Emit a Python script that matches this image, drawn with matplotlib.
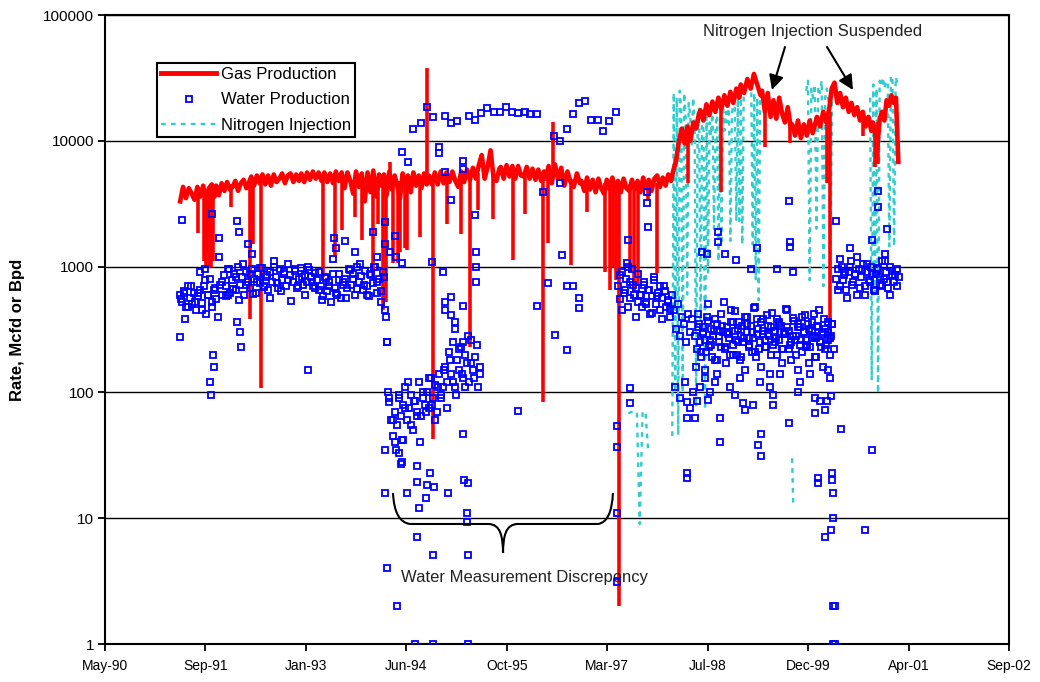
import numpy as np
import pandas as pd
import matplotlib
matplotlib.use("Agg")
import matplotlib.pyplot as plt
import matplotlib.dates as mdates
from matplotlib.lines import Line2D
from matplotlib.path import Path
from matplotlib.patches import PathPatch
from matplotlib.ticker import FixedLocator, NullLocator, FixedFormatter

plt.rcParams["font.family"] = ["Liberation Sans", "DejaVu Sans"]

# ---- gas production (Mcfd) in time segments (decimal years) ----
gas_a = [3300, 4300, 3500, 4200, 3800, 3400, 4300, 3600, 4400, 3400, 4200, 4500, 3600]
gas_b = [4400, 3700, 4600, 4000, 4700, 4100, 4300, 4800, 4000, 4600, 4900, 4200, 4700]
gas_c = [5200, 4400, 5300, 4600, 5400, 4500, 5300, 4400, 5400, 4700, 5000, 5500, 4600,
         5300, 5500, 4700, 5400, 4800]
gas_d = [5500, 4700, 5600, 4900, 5700, 5000, 5600, 4800, 5600, 4700, 5500, 4600, 5700,
         4800, 5600, 4200, 5600, 4800, 3800, 5700, 4300, 5500, 3300, 5600, 3900, 5800,
         3600, 5400]
gas_e = [4400, 5400, 3700, 5700, 4100, 5300, 4400, 3500, 5500, 4300, 5300, 3900, 5600,
         4400, 5300, 4200, 5500, 4500]
gas_f = [5300, 4500, 5600, 4500, 5700, 4600, 5600, 4700, 5700, 4800, 4300, 5700, 4700,
         5900, 4900, 6100, 5000, 6400, 7700, 5000, 6200, 8400, 5200, 4800, 6000]
gas_g = [6200, 5000, 6400, 5200, 6300, 5000, 6300, 5300, 5200, 6200, 5000, 6000, 4900,
         5900, 4800, 5700]
gas_h = [5000, 6300, 4600, 6500, 5000, 6100, 4400, 5700, 4700, 4300, 5500, 4600]
gas_i = [4800, 4000, 5100, 4100, 4900, 3900, 5000, 4200, 3800, 4900, 4100, 5100, 4000,
         4800, 3900, 5000, 4200, 4000, 4900, 4100, 4800, 3900, 5100, 4200, 4900, 4000,
         5000, 5300, 4300, 5100, 4400, 5400, 4800]
gas_j = [5800, 7000, 10000, 12500, 9500, 13000, 10000, 14000, 12500, 16500]
gas_k = [17500, 14500, 19500, 16000, 20500, 17000, 22000, 18000, 23000, 19000, 24500,
         20000, 26000, 22000]
gas_l = [28000, 24000, 31000, 26000, 34000, 28000, 23000]
gas_m = [25000, 17000, 24000, 15500, 21000, 15000, 22000, 16500, 14000, 18500, 13000]
gas_n = [13500, 11000, 14500, 10500, 13500, 11000, 14500, 11500, 14000]
gas_o = [15500, 13000, 17000, 14000, 18500]
gas_p = [26000, 29000, 20000, 24000, 18500, 22000, 17000, 20000, 16000, 18500, 14500,
         17000, 13000, 15500, 12000]
gas_q = [14000, 12000, 9000, 15000, 17000, 14500, 21000, 19000, 23000, 20000, 22000, 6800]

gas_spans = [(1991.37, 1991.84, gas_a), (1991.86, 1992.31, gas_b), (1992.34, 1992.99, gas_c),
             (1993.02, 1994.08, gas_d), (1994.11, 1994.73, gas_e), (1994.76, 1995.72, gas_f),
             (1995.74, 1996.33, gas_g), (1996.35, 1996.82, gas_h), (1996.84, 1998.06, gas_i),
             (1998.09, 1998.44, gas_j), (1998.46, 1998.99, gas_k), (1999.01, 1999.28, gas_l),
             (1999.30, 1999.69, gas_m), (1999.71, 2000.03, gas_n), (2000.05, 2000.22, gas_o),
             (2000.25, 2000.79, gas_p), (2000.81, 2001.156, gas_q)]

# one-day shut-ins and spikes: date, rate on that day, rate on the days around it
gas_dip_t = [1991.616, 1991.700, 1991.725, 1991.745, 1991.765, 1991.790, 1991.820, 1992.065,
             1992.324, 1992.365, 1992.474,
             1993.319, 1993.483, 1993.578, 1993.755, 1993.851, 1994.001, 1994.069, 1994.137,
             1994.178, 1994.232, 1994.273, 1994.341, 1994.369, 1994.437, 1994.464, 1994.641,
             1994.736, 1994.818, 1995.009, 1995.200, 1995.323, 1995.432, 1995.636, 1995.909,
             1996.072, 1996.318, 1996.386, 1996.454, 1996.699, 1996.917, 1997.162, 1997.231,
             1997.272, 1997.312, 1997.353, 1997.503, 1997.558, 1997.612, 1997.749, 1997.871,
             1998.294, 1998.743, 1999.343, 1999.684, 2000.188, 2000.229, 2000.679, 2000.842,
             2000.883]
gas_dip_v = [1850, 1100, 1000, 1300, 970, 1000, 1100, 3000,
             380, 1500, 108,
             830, 1190, 1950, 2500, 1620, 780, 2200, 450,
             520, 6800, 1070, 1060, 1300, 1400, 1360, 1730,
             37800, 43, 2200, 1800, 230, 2800, 2400, 1120,
             2600, 84, 1530, 14000, 1030, 2700, 900, 650,
             1000, 780, 2, 890, 620, 700, 3400, 890,
             4600, 3900, 8900, 9600, 4600, 274, 11000, 6200,
             6600]
gas_dip_top = [4000, 4000, 4000, 4000, 4200, 4200, 4200, 4500,
               4600, 4800, 5000,
               5200, 5200, 5200, 5000, 5000, 5000, 5000, 4800,
               4800, 5000, 4800, 4800, 4800, 4800, 4800, 4800,
               5000, 5000, 5200, 5200, 5200, 5500, 5500, 5600,
               5600, 5400, 5500, 5500, 5000, 4600, 4600, 4600,
               4600, 4600, 4600, 4500, 4500, 4500, 4600, 4600,
               11000, 20000, 20000, 14000, 15000, 17000, 16000, 12000,
               14000]

# ---- water production (Bpd), dense bands per period ----
w1a = [600, 520, 640, 480, 700, 560, 500, 620, 450, 580, 650, 510,
       700, 420, 600, 800, 480, 650, 550, 400, 720, 600,
       850, 700, 950, 620, 780, 880, 650, 1000, 720, 820, 600, 900, 760, 680, 950, 800, 620,
       870, 740, 980, 700, 820, 650,
       900, 750, 1000, 820, 680, 950, 780, 880, 700, 1050, 850, 760, 920, 680, 800, 980, 720,
       860, 750, 940, 820, 700, 890, 780, 650,
       700, 580, 820, 640, 760, 520, 870, 680, 600, 780, 560, 720,
       800, 680, 950, 720, 880, 600, 1000, 760, 840, 650, 920, 700, 580, 860, 740, 1000, 620,
       800, 520, 900, 450]
w1b = [550, 620, 480, 700, 520, 620, 450, 780, 600, 520,
       680, 1200, 750, 580, 950, 660, 820, 540, 1050, 720,
       880, 610, 760, 980, 690, 850, 560, 1100, 740, 640,
       900, 780, 530, 960, 700, 830, 600, 1000, 760, 680,
       900, 540, 810, 700, 1150, 620, 880, 750, 560, 940,
       800, 660, 1050, 720, 590, 870, 1000, 750, 640, 820]
w2a = [250, 90, 60, 45, 70, 55, 90, 65, 80, 110, 60, 75, 95, 50, 85, 70, 120, 65, 90, 80,
       100, 75, 130, 90, 115, 70, 140, 95, 110]
w2b = [60, 35, 95, 42, 75, 120, 55, 85, 65, 40, 100, 70, 130, 80, 60, 110, 90, 150, 75, 180,
       120, 95, 220, 140, 110, 280, 170, 130, 240, 160]
w3a = [160, 120, 210, 140, 250, 110, 180, 150, 230, 130, 200, 170, 120, 260, 150, 190, 110, 140]
w4a = [700, 550, 900, 620, 800, 480, 750, 950, 600, 680, 520, 600, 480, 720, 520, 650, 420,
       580, 780, 500, 620, 450, 560, 700, 480, 540, 400, 600]
w4b = [850, 450, 650, 1000, 560, 720, 400, 880, 600, 760, 500, 650, 430, 820, 580, 700, 380,
       640, 520, 460]
w5a = [450, 320, 500, 280, 400, 350, 250, 420, 300, 380]
w6a = [280, 220, 350, 190, 300, 260, 400, 230, 320, 280,
       180, 350, 250, 420, 300, 220, 330, 270, 450, 240,
       310, 200, 360, 280, 250, 400, 300, 230, 340, 270,
       480, 290, 220, 360, 310, 260, 410, 280, 330, 240,
       300, 380, 260, 340, 220, 290, 450, 310, 250, 370,
       280, 330, 240, 400, 300, 260, 350, 230, 310, 420,
       270, 330, 250, 290, 380, 240, 300, 270, 350, 220]
w6b = [160, 420, 210, 330, 150, 500, 260, 190, 380, 140, 310, 230, 520, 170, 290, 360, 200,
       440, 250, 180, 340, 150, 400, 270, 210, 470, 190, 320, 160, 380, 230, 290, 140, 430,
       250, 200, 350, 170, 300, 460, 220, 180, 390, 260, 150, 330, 210, 410, 240, 170, 360,
       280, 190, 450, 230, 160, 320, 260, 200, 350]
w6c = [330, 250, 290, 210, 370, 240, 310, 180, 280, 340, 230, 300, 200, 360, 260, 320, 190,
       270, 350, 240, 300, 210, 380, 250, 290, 230, 340, 200, 310, 270, 360, 220, 290, 330,
       240, 280, 200, 350, 260, 300, 230, 320, 270, 190, 340, 250, 300, 220, 360, 280]
w7a = [800, 950, 700, 1000, 850, 650, 900, 1100, 750, 880, 600, 950, 820, 1050, 700, 900,
       780, 1000, 650, 870, 950, 720, 1100, 800, 900, 680, 1000, 850, 750, 950, 820]
w7b = [650, 1150, 780, 900, 560, 1000, 720, 850, 1200, 680, 940, 600, 1050, 760, 880, 640,
       980, 820, 700, 1100, 760, 600, 920, 860, 700]

water_spans = [(1991.37, 1994.16, w1a), (1991.38, 1994.15, w1b), (1994.19, 1994.95, w2a),
               (1994.27, 1995.45, w2b), (1994.98, 1995.45, w3a), (1997.34, 1998.07, w4a),
               (1997.36, 1998.05, w4b), (1998.10, 1998.35, w5a), (1998.38, 2000.28, w6a),
               (1998.40, 2000.26, w6b), (1998.42, 2000.24, w6c), (2000.31, 2001.16, w7a),
               (2000.33, 2001.14, w7b)]

# scattered water readings
water_pts_t = [1991.370, 1991.397, 1991.438, 1991.643, 1991.711, 1991.779, 1991.793, 1991.806,
               1991.820, 1991.834, 1991.902, 1992.024, 1992.147, 1992.174, 1992.147, 1992.188,
               1992.201, 1992.297, 1992.351, 1993.115, 1993.469, 1993.496, 1993.619, 1993.755,
               1994.001, 1994.055, 1994.164, 1994.178, 1994.191, 1994.205, 1994.219, 1994.164,
               1994.164, 1994.191, 1994.328, 1994.300, 1994.355, 1994.382, 1994.396, 1994.410,
               1994.464, 1994.573, 1994.600, 1994.600, 1994.600, 1994.628, 1994.723, 1994.737,
               1994.778, 1994.818, 1994.832, 1994.818, 1995.023, 1995.227, 1995.241, 1995.282,
               1995.282, 1995.295, 1995.295, 1995.295,
               1994.546, 1994.655, 1994.737, 1994.818, 1994.900, 1994.900, 1994.982, 1995.064,
               1995.145, 1995.309, 1995.391, 1995.473, 1995.554, 1995.650, 1995.732, 1995.813,
               1995.895, 1995.977, 1996.072, 1996.140, 1996.236, 1996.467, 1996.549, 1996.645,
               1996.726, 1996.808, 1996.890, 1996.972, 1997.067, 1997.135, 1997.217, 1997.312,
               1994.396, 1994.478, 1994.982, 1995.064, 1995.227, 1995.227, 1995.391, 1995.405,
               1995.405, 1995.405, 1994.164, 1994.300, 1994.232, 1994.314, 1994.396, 1994.805,
               1994.955, 1994.982, 1994.982, 1995.064, 1995.064, 1995.118, 1995.118, 1995.227,
               1995.227, 1996.318, 1996.236, 1996.386, 1996.481, 1996.549, 1996.576, 1996.645,
               1996.645, 1996.726, 1996.808, 1996.808, 1995.977,
               1997.326, 1997.326, 1997.326, 1997.326, 1997.503, 1997.503, 1997.476, 1997.462,
               1997.735, 1997.735, 1997.749, 1998.485, 1998.553, 1998.703, 1998.703, 1998.798,
               1998.948, 1999.152, 1999.234, 1999.507, 1999.670, 1999.684, 1999.684, 1999.725,
               2000.311, 2000.502, 2000.801, 2000.883, 2000.883, 2000.979, 2001.006,
               1998.280, 1998.280, 1998.280, 1998.280, 1998.389, 1998.567, 1998.730, 1998.730,
               1999.043, 1999.071, 1999.180, 1999.289, 1999.289, 1999.248, 1999.452, 1999.452,
               1999.670, 1999.793, 2000.025, 2000.025, 2000.066, 2000.066, 2000.093, 2000.161,
               2000.188, 2000.256, 2000.256, 2000.270, 2000.270, 2000.243, 2000.161, 2000.706,
               2000.270, 2000.297, 2000.270, 2000.297, 2000.379, 2000.801, 2000.243,
               1998.117, 1998.185, 1998.253, 1998.321, 1998.362, 1998.416, 1998.457, 1998.526,
               1998.594, 1998.662, 1998.866, 1998.935, 1999.003, 1999.275, 1999.411, 1999.548,
               1999.820, 1999.956, 2000.202, 2000.229]
water_pts_v = [275, 2350, 380, 900, 950, 120, 95, 2600,
               200, 160, 1700, 600, 2300, 1900, 360, 300,
               230, 1500, 1250, 150, 1700, 1400, 1600, 1300,
               1900, 1200, 1500, 400, 250, 100, 84, 35,
               16, 4, 2, 40, 33, 27, 28, 42,
               16, 1, 26, 19.4, 7.1, 12, 14.5, 18.5,
               23, 5.1, 17.8, 1, 16, 47, 20, 11,
               9.3, 19, 5.1, 1,
               12500, 13900, 18600, 15500, 8900, 8000, 15800, 13800,
               14300, 15800, 14500, 16500, 18100, 16900, 16900, 18600,
               17000, 16500, 16900, 16300, 16300, 11000, 9900, 12300,
               16400, 19800, 20600, 14600, 14700, 12000, 14300, 16900,
               8200, 6800, 5700, 3400, 6900, 6000, 2550, 1300,
               1000, 750, 2250, 1750, 1300, 1200, 1070, 1090,
               910, 520, 450, 570, 410, 360, 320, 490,
               250, 3900, 490, 740, 285, 4600, 1240, 217,
               700, 700, 560, 470, 71,
               54, 37, 11, 3.1, 108, 82, 1640, 1070,
               3900, 3200, 2050, 1300, 1250, 1900, 1570, 1270,
               1120, 950, 1400, 950, 3300, 1570, 1440, 900,
               2300, 1400, 1620, 4000, 3000, 1250, 2000,
               23, 21, 84, 63, 63, 87, 63, 40,
               82, 72, 80, 47, 31, 38, 95, 80,
               57, 100, 90, 68, 21, 19, 85, 72,
               85, 23, 20, 16, 10, 8.1, 7.1, 8.1,
               2, 2, 1, 1, 51, 35, 93,
               110, 90, 120, 75, 100, 85, 110, 130,
               100, 120, 110, 95, 130, 120, 110, 140,
               120, 140, 150, 130]

# ---- nitrogen injection (Mcfd) ----
n2_a = [68, 70, 70, 70, 9, 70, 70, 33]
n2_b = [45, 24000, 100, 22000, 46, 25000, 18000, 100, 24000, 15000,
        600, 20000, 16000, 9000, 22000, 14000, 77, 12000, 18000, 300,
        15000, 12000, 77, 17000, 900, 14000, 11000, 18000, 2000, 13000,
        16000, 1100, 15000, 1500, 19000, 12000, 17000, 14000, 20000, 1600,
        16000, 21000, 18000, 2300, 22000, 2300, 24000, 1500, 27000, 29000,
        26000, 30000, 27000, 28000, 1500, 24000, 780, 22000, 540, 25000]
n2_c = [30, 13]
n2_d = [25000, 30000, 780, 26000, 22000, 28000, 2000, 27000, 24000, 30000, 700, 22000,
        26000, 20000, 780, 25000]
n2_e = [22000, 125, 28000, 620, 26000, 98, 30000, 27000, 32000, 26000, 30000, 28000, 1450,
        33000, 30000, 1450, 32000, 29000]
n2_spans = [(1997.476, 1997.749, n2_a), (1998.076, 1999.275, n2_b), (1999.710, 1999.725, n2_c),
            (1999.902, 2000.256, n2_d), (2000.774, 2001.142, n2_e)]

x_ticks_start = pd.Timestamp("1990-05-07")
tick_days = 500
n_ticks = 10
y_ticks = [1, 10, 100, 1000, 10000, 100000]
y_tick_labels = ["1", "10", "100", "1000", "10000", "100000"]


def to_date(years):
    years = np.asarray(years, dtype=float)
    whole = np.floor(years).astype(int)
    base = pd.to_datetime([f"{y}-01-01" for y in whole])
    return base + pd.to_timedelta((years - whole) * 365.25, unit="D")


def spans_to_series(spans, gaps=False):
    ts, vs = [], []
    for t0, t1, vals in spans:
        ts.extend(np.linspace(t0, t1, len(vals)))
        vs.extend(vals)
        if gaps:
            ts.append(t1 + 0.001)
            vs.append(np.nan)
    return np.array(ts), np.array(vs, dtype=float)


gt, gv = spans_to_series(gas_spans)
gas = pd.Series(gv, index=to_date(gt))
dip_dates = to_date(gas_dip_t)

wt, wv = spans_to_series(water_spans)
water = pd.Series(np.concatenate([wv, water_pts_v]),
                  index=to_date(np.concatenate([wt, water_pts_t])))

nt, nv = spans_to_series(n2_spans, gaps=True)
n2 = pd.Series(nv, index=to_date(nt))

fig = plt.figure(figsize=(10.4, 6.82), dpi=100)
ax = fig.add_axes([105 / 1040, 38 / 682, 904 / 1040, 629 / 682])

red = "#FF0000"
ax.plot(n2.index, n2.values, color="#33CCCC", lw=1.7, ls=(0, (2, 2.2)), zorder=2)
ax.plot(gas.index, gas.values, color=red, lw=3.3, zorder=3)
ax.vlines(dip_dates, gas_dip_v, gas_dip_top, color=red, lw=2.6, zorder=3)
ax.plot(water.index, water.values, ls="none", marker="s", ms=4.2, mfc="none",
        mec="#0000FF", mew=1.3, zorder=4)

ax.set_yscale("log")
ax.set_ylim(1, 100000)
ax.yaxis.set_major_locator(FixedLocator(y_ticks))
ax.yaxis.set_major_formatter(FixedFormatter(y_tick_labels))
ax.yaxis.set_minor_locator(NullLocator())
ax.yaxis.grid(True, color="black", lw=1.0)
ax.set_axisbelow(True)

xt = [x_ticks_start + pd.Timedelta(days=tick_days * k) for k in range(n_ticks)]
ax.set_xlim(xt[0], xt[-1])
ax.set_xticks(xt)
ax.xaxis.set_major_formatter(mdates.DateFormatter("%b-%y"))
ax.xaxis.set_minor_locator(NullLocator())

ax.tick_params(axis="both", direction="out", length=5, width=1.3, colors="black")
ax.tick_params(axis="x", labelsize=10, pad=6)
ax.tick_params(axis="y", labelsize=11, pad=3)
for s in ax.spines.values():
    s.set_linewidth(1.5)
    s.set_color("black")

fig.text(18 / 1040, 1 - 330 / 682, "Rate, Mcfd or Bpd", rotation=90, ha="center",
         va="center", fontsize=12, fontweight="bold")

handles = [Line2D([], [], color=red, lw=3.5),
           Line2D([], [], ls="none", marker="s", ms=4.2, mfc="none", mec="#0000FF", mew=1.3),
           Line2D([], [], color="#33CCCC", lw=1.7, ls=(0, (2, 2.2)))]
leg = ax.legend(handles, ["Gas Production", "Water Production", "Nitrogen Injection"],
                loc="upper left", bbox_to_anchor=(0.0575, 0.9237), borderaxespad=0,
                fontsize=12, frameon=True, fancybox=False, framealpha=1, edgecolor="black",
                handlelength=3.3, handletextpad=0.3, labelspacing=0.62, borderpad=0.25)
leg.get_frame().set_linewidth(1.5)

ax.text(0.7832, 0.973, "Nitrogen Injection Suspended", transform=ax.transAxes,
        ha="center", va="center", fontsize=12, color="#222222")
for tail, tip in [((0.7522, 0.9491), (0.7378, 0.8808)), ((0.7987, 0.9491), (0.8274, 0.8808))]:
    ax.annotate("", xy=tip, xytext=tail, xycoords="axes fraction", textcoords="axes fraction",
                arrowprops=dict(arrowstyle="-|>", color="black", lw=1.5, mutation_scale=22,
                                shrinkA=0, shrinkB=0))

# curly brace under the discrepancy period (axes fraction)
brace = [(0.3186, 0.2401), (0.3200, 0.1940), (0.3374, 0.1908), (0.4237, 0.1908),
         (0.4380, 0.1908), (0.4400, 0.1700), (0.4403, 0.1447),
         (0.4406, 0.1700), (0.4426, 0.1908), (0.4569, 0.1908), (0.5454, 0.1908),
         (0.5605, 0.1940), (0.5619, 0.2401)]
codes = [Path.MOVETO, Path.CURVE3, Path.CURVE3, Path.LINETO,
         Path.CURVE4, Path.CURVE4, Path.CURVE4,
         Path.CURVE4, Path.CURVE4, Path.CURVE4, Path.LINETO,
         Path.CURVE3, Path.CURVE3]
ax.add_patch(PathPatch(Path(brace, codes), transform=ax.transAxes, fill=False,
                       edgecolor="black", lw=1.5, zorder=5))
ax.text(0.4635, 0.105, "Water Measurement Discrepency", transform=ax.transAxes,
        ha="center", va="center", fontsize=12, color="#222222")

fig.savefig("out.png", dpi=100)
